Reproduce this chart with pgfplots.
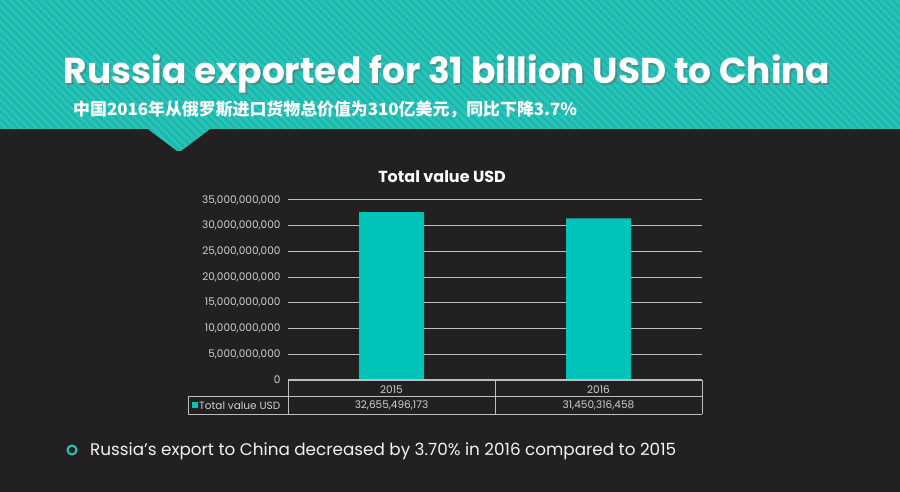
\documentclass[border=0pt]{standalone}
\usepackage{pgfplots}
\pgfplotsset{compat=1.18}
\usepackage{fontspec}
\setmainfont{Poppins}
\newfontfamily\cjk{Noto Sans CJK SC}
\usetikzlibrary{patterns.meta}
\definecolor{bg}{HTML}{222021}
\definecolor{teal1}{HTML}{27C4B9}
\definecolor{teal2}{HTML}{1EB6AB}
\definecolor{barc}{HTML}{00C4B8}
\definecolor{tickc}{HTML}{D0D0D0}
\definecolor{gridc}{HTML}{BDBDBD}
\begin{document}
\begin{tikzpicture}
\begin{scope}[x=1pt,y=1pt]
\fill[bg] (0,0) rectangle (900,492);
\path[fill=teal1] (0,363) -- (148,363) -- (177,341) to[out=-20,in=200] (181,341) -- (210,363) -- (900,363) -- (900,492) -- (0,492) -- cycle;
\path[pattern={Lines[angle=-45,distance=5.5pt,line width=2.2pt]}, pattern color=teal2] (0,363) -- (148,363) -- (177,341) to[out=-20,in=200] (181,341) -- (210,363) -- (900,363) -- (900,492) -- (0,492) -- cycle;
\node[anchor=base, text=black!60, opacity=0.5, font=\fontsize{36}{40}\selectfont\bfseries] at (448.5,406.5) {Russia exported for 31 billion USD to China};
\node[anchor=base, text=white, font=\fontsize{36}{40}\selectfont\bfseries] at (447,408) {Russia exported for 31 billion USD to China};
\node[anchor=west, text=white, font=\cjk\fontsize{16.9}{18}\selectfont\bfseries, inner sep=0pt] at (73,382) {中国2016年从俄罗斯进口货物总价值为310亿美元，同比下降3.7\%};
\end{scope}
\begin{axis}[at={(288pt,112pt)}, anchor=south west, scale only axis,
  width=414pt, height=180pt,
  xmin=-0.5, xmax=1.5, ymin=0, ymax=35000000000,
  ytick={0,5000000000,10000000000,15000000000,20000000000,25000000000,30000000000,35000000000},
  scaled y ticks=false,
  xtick={0,1}, xticklabels={2015,2016},
  ymajorgrids, grid style={gridc, line width=1pt},
  axis line style={draw=none}, major tick length=0pt,
  yticklabel style={font=\fontsize{10.5}{12}\selectfont, text=tickc, /pgf/number format/fixed, /pgf/number format/precision=0, /pgf/number format/1000 sep={,}, /pgf/number format/assume math mode=true, xshift=-4pt},
  xticklabel style={font=\fontsize{10.5}{12}\selectfont, text=tickc, yshift=-2pt},
  title={Total value USD}, title style={at={(0.372,1)}, anchor=south, font=\fontsize{16}{18}\selectfont\bfseries, text=white, yshift=8pt},
]
\addplot[ybar, bar width=65pt, bar shift=0pt, fill=barc, draw=none] coordinates {(0,32655496173) (1,31450316458)};
\end{axis}
\begin{scope}[x=1pt,y=1pt]
\draw[gridc, line width=1.4pt] (288,112) -- (702,112);
\draw[gridc, line width=0.8pt] (288,112) -- (288,78) (495,112) -- (495,78) (702,112) -- (702,78)
  (188,96) -- (702,96) (188,78) -- (702,78) (188,96) -- (188,78);
\node[text=tickc, font=\fontsize{10.5}{12}\selectfont] at (391.5,86.5) {32,655,496,173};
\node[text=tickc, font=\fontsize{10.5}{12}\selectfont] at (598.5,86.5) {31,450,316,458};
\fill[barc] (192,84) rectangle (198,90);
\node[anchor=west, inner sep=0pt, text=tickc, font=\fontsize{10.5}{12}\selectfont] at (199,86.5) {Total value USD};
\draw[teal1, line width=2pt] (72,42) circle (4.5);
\node[anchor=west, inner sep=0pt, text=white!95!black, font=\fontsize{16.8}{20}\selectfont] at (90,41) {Russia’s export to China decreased by 3.70\% in 2016 compared to 2015};
\end{scope}
\end{tikzpicture}
\end{document}
